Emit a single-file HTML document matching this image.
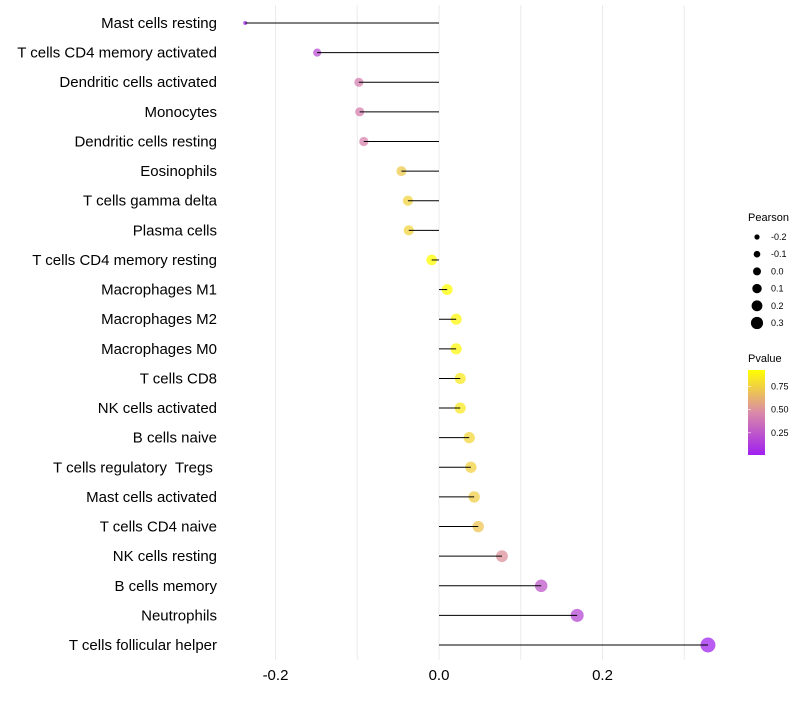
<!DOCTYPE html>
<html><head><meta charset="utf-8"><style>
body{margin:0;background:#fff;font-family:"Liberation Sans",sans-serif}
text{white-space:pre}
</style></head><body>
<svg id="chart" width="800" height="700" xmlns="http://www.w3.org/2000/svg" font-family="Liberation Sans, sans-serif"></svg>
<script>
const categories=["Mast cells resting","T cells CD4 memory activated","Dendritic cells activated","Monocytes","Dendritic cells resting","Eosinophils","T cells gamma delta","Plasma cells","T cells CD4 memory resting","Macrophages M1","Macrophages M2","Macrophages M0","T cells CD8","NK cells activated","B cells naive","T cells regulatory  Tregs ","Mast cells activated","T cells CD4 naive","NK cells resting","B cells memory","Neutrophils","T cells follicular helper"];
const pearson=[-0.237,-0.149,-0.098,-0.097,-0.092,-0.046,-0.038,-0.037,-0.009,0.010,0.021,0.021,0.026,0.026,0.037,0.039,0.043,0.048,0.077,0.125,0.169,0.329];
const pvalues=[0.02,0.2,0.42,0.42,0.44,0.72,0.76,0.76,0.96,0.95,0.9,0.9,0.84,0.84,0.77,0.75,0.73,0.7,0.5,0.25,0.18,0.02];
const xTicks=[-0.2,0,0.2];
const xTickLabels=["-0.2","0.0","0.2"];
const xGrid=[-0.2,-0.1,0,0.1,0.2,0.3];
const sizeLegend=[-0.2,-0.1,0.0,0.1,0.2,0.3];
const sizeLegendLabels=["-0.2","-0.1","0.0","0.1","0.2","0.3"];
const pLegend=[0.25,0.5,0.75];
const pLegendLabels=["0.25","0.50","0.75"];

const NS="http://www.w3.org/2000/svg";
const svg=document.getElementById('chart');
const x=v=>439+v*817.5;
const y=i=>23+i*29.62;
const r=v=>{const a=28.8+82.7*v;return a<5?2:Math.sqrt(a)-(v<-0.2?1:0);};
function lerp(a,b,t){return a+(b-a)*t}
function color(p){
 const s=[[160,32,240],[218,138,168],[255,255,0]];
 let t=Math.max(0,Math.min(1,p/0.93));
 let a,b,u;
 if(t<0.5){a=s[0];b=s[1];u=t/0.5}else{a=s[1];b=s[2];u=(t-0.5)/0.5}
 return `rgb(${Math.round(lerp(a[0],b[0],u))},${Math.round(lerp(a[1],b[1],u))},${Math.round(lerp(a[2],b[2],u))})`;
}
function el(tag,attrs,text){const e=document.createElementNS(NS,tag);for(const k in attrs)e.setAttribute(k,attrs[k]);if(text!==undefined)e.textContent=text;svg.appendChild(e);return e;}

xGrid.forEach(v=>{
 const g=el('line',{x1:x(v),x2:x(v),y1:5,y2:660,stroke:'#ebebeb','stroke-width':1});
 
 
});
xTicks.forEach((v,i)=>{
 const t=el('text',{x:x(v),y:680,'text-anchor':'middle','font-size':15,fill:'#000'},xTickLabels[i]);
 
 
});
categories.forEach((c,i)=>{
 const t=el('text',{x:217,y:y(i)+5,'text-anchor':'end','font-size':15,fill:'#000'},c);
 
 
 const p=el('circle',{cx:x(pearson[i]),cy:y(i),r:r(pearson[i]),fill:color(pvalues[i]),'fill-opacity':0.75});
 
 
 const l=el('line',{x1:x(0),x2:x(pearson[i]),y1:y(i),y2:y(i),stroke:'#000','stroke-width':1});
 
 
});
// size legend
const st=el('text',{x:748,y:221,'font-size':11},'Pearson');


sizeLegend.forEach((v,i)=>{
 const cy=237+i*17.2;
 const c=el('circle',{cx:757,cy:cy,r:2.6+i*0.7,fill:'#000'});
 
 
 const t=el('text',{x:771,y:cy+3,'font-size':9},sizeLegendLabels[i]);
 
 
});
// color legend
const ct=el('text',{x:748,y:362,'font-size':11},'Pvalue');


const defs=el('defs',{});
const lg=document.createElementNS(NS,'linearGradient');
lg.setAttribute('id','pg');lg.setAttribute('x1','0');lg.setAttribute('y1','1');lg.setAttribute('x2','0');lg.setAttribute('y2','0');
[[0,0],[0.5,0.465],[1,0.93]].forEach(([o,p])=>{const s=document.createElementNS(NS,'stop');s.setAttribute('offset',o);s.setAttribute('stop-color',color(p));lg.appendChild(s);});
defs.appendChild(lg);
const bar=el('rect',{x:748,y:370,width:17,height:85,fill:'url(#pg)'});


const py=p=>455-(p-0.01)/0.92*85;
pLegend.forEach((p,i)=>{
 const tk=el('line',{x1:748,x2:751,y1:py(p),y2:py(p),stroke:'#fff','stroke-width':0.6});
 
 
 const t=el('text',{x:771,y:py(p)+3,'font-size':9},pLegendLabels[i]);
 
 
});
</script>
</body></html>
